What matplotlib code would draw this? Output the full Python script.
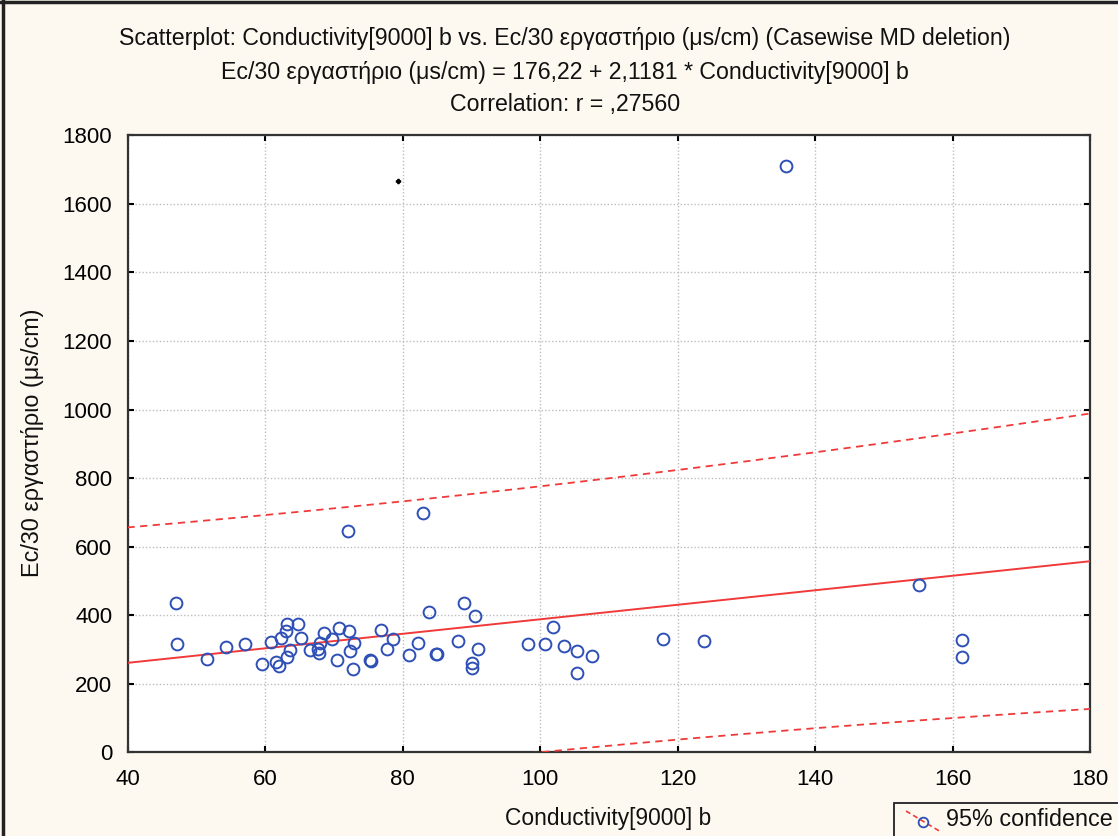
import numpy as np
import matplotlib
matplotlib.use("Agg")
import matplotlib.pyplot as plt
from matplotlib.lines import Line2D
from matplotlib.patches import Rectangle

# ---------------- data ----------------
conductivity = [
    47.0, 47.2, 51.5, 54.3, 57.1, 59.6, 60.8, 61.6, 62.0, 62.3,
    63.0, 63.2, 63.2, 63.7, 64.8, 65.2, 66.6, 67.7, 67.8, 68.0,
    68.6, 69.8, 70.4, 70.8, 72.2, 72.4, 72.8, 73.0, 75.3, 75.4,
    76.9, 77.8, 78.6, 81.0, 82.2, 83.8, 84.8, 85.0, 88.1, 89.0,
    90.5, 90.9, 90.1, 90.1, 98.3, 100.7, 101.9, 103.5, 105.3, 105.4,
    107.6, 117.8, 123.9, 155.1, 161.4, 161.4, 135.8, 72.1, 82.9,
]
ec30 = [
    436, 316, 271, 306, 315, 258, 321, 264, 253, 334,
    355, 374, 277, 298, 374, 333, 298, 301, 291, 320,
    347, 331, 269, 362, 354, 296, 242, 318, 270, 267,
    357, 301, 331, 284, 320, 410, 286, 286, 324, 436,
    398, 301, 261, 245, 315, 315, 366, 311, 296, 232,
    280, 331, 324, 489, 328, 279, 1710, 646, 697,
]
stray_dot_x = [79.3]
stray_dot_y = [1666]

intercept = 176.22
slope = 2.1181
t_crit = 2.00

title_lines = [
    "Scatterplot: Conductivity[9000] b vs. Ec/30 εργαστήριο (μs/cm) (Casewise MD deletion)",
    "Ec/30 εργαστήριο (μs/cm) = 176,22 + 2,1181 * Conductivity[9000] b",
    "Correlation: r = ,27560",
]
xlabel = "Conductivity[9000] b"
ylabel = "Ec/30 εργαστήριο (μs/cm)"
xticks = [40, 60, 80, 100, 120, 140, 160, 180]
yticks = [0, 200, 400, 600, 800, 1000, 1200, 1400, 1600, 1800]
legend_label = "95% confidence"

# ---------------- style ----------------
plt.rcParams['font.family'] = ['Liberation Sans', 'DejaVu Sans']
W, H = 1118, 836
BG = '#FDF9F1'
PT_COLOR = '#2E4FB5'
RED = '#F03A3A'

fig = plt.figure(figsize=(W / 100, H / 100), dpi=100, facecolor=BG)

def fx(px):
    return px / W

def fy(py):
    return 1 - py / H

L, R, T, B = 127.5, 1090.3, 135.3, 752.3
ax = fig.add_axes([fx(L), fy(B), fx(R) - fx(L), fy(T) - fy(B)])
ax.set_facecolor('white')

x = np.array(conductivity, dtype=float)
y = np.array(ec30, dtype=float)
n = len(x)
resid = y - (intercept + slope * x)
s = np.sqrt(np.sum(resid ** 2) / (n - 2))
xbar = x.mean()
sxx = np.sum((x - xbar) ** 2)

xs = np.linspace(40, 180, 400)
yfit = intercept + slope * xs
half = t_crit * s * np.sqrt(1 + 1 / n + (xs - xbar) ** 2 / sxx)

ax.plot(xs, yfit, color=RED, lw=1.4, zorder=3)
ax.plot(xs, yfit + half, color=RED, lw=1.3, ls=(0, (4, 3)), zorder=3)
ax.plot(xs, yfit - half, color=RED, lw=1.3, ls=(0, (4, 3)), zorder=3)

ax.plot(x, y, ls='none', marker='o', ms=8.5, mfc='none', mec=PT_COLOR, mew=1.4, zorder=4)
ax.plot(stray_dot_x, stray_dot_y, ls='none', marker='P', ms=3, color='black', zorder=4)

ax.set_xlim(40, 180)
ax.set_ylim(0, 1800)
ax.set_xticks(xticks)
ax.set_yticks(yticks)
ax.grid(True, color='#BDBDBD', ls=(0, (1, 1.5)), lw=1.0)
ax.set_axisbelow(True)
ax.tick_params(direction='in', length=4, width=1.5, top=True, right=True,
               labelsize=16, colors='black', pad=11)
ax.tick_params(axis='x', pad=12)
for sp in ax.spines.values():
    sp.set_color('#333333')
    sp.set_linewidth(1.6)

# titles
for txt, py in zip(title_lines, [38, 72, 104]):
    fig.text(fx(565), fy(py), txt, ha='center', va='center', fontsize=16.7, color='#111111')

fig.text(fx(608), fy(818), xlabel, ha='center', va='center', fontsize=16.4, color='#111111')
fig.text(fx(33), fy(443), ylabel, ha='center', va='center', rotation=90, fontsize=16.8, color='#111111')

# legend box (cut off at bottom edge)
fig.patches.append(Rectangle((fx(893.5), fy(845)), fx(1125) - fx(893.5), fy(803) - fy(845),
                             transform=fig.transFigure, fill=False, ec='#222222', lw=1.3))
fig.lines.append(Line2D([fx(906), fx(941)], [fy(811), fy(832)], transform=fig.transFigure,
                        color=RED, lw=1.2, ls=(0, (3, 2))))
fig.lines.append(Line2D([fx(922.7)], [fy(821.5)], transform=fig.transFigure, ls='none',
                        marker='o', ms=7, mfc='none', mec=PT_COLOR, mew=1.3))
fig.text(fx(946), fy(820), legend_label, ha='left', va='center', fontsize=16.8, color='#111111')

# window frame lines (top and left)
fig.lines.append(Line2D([0, 1], [fy(1.5), fy(1.5)], transform=fig.transFigure, color='#222222', lw=2.5))
fig.lines.append(Line2D([fx(2.5), fx(2.5)], [0, 1], transform=fig.transFigure, color='#222222', lw=2.5))

fig.savefig('out.png', dpi=100, facecolor=BG)
